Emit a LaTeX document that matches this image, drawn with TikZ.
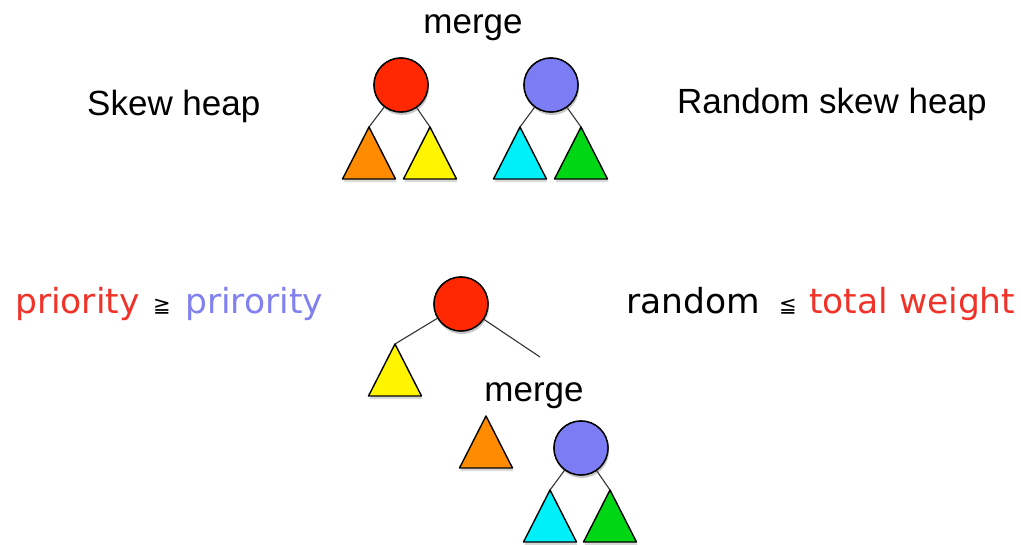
\documentclass[tikz,border=0pt]{standalone}
\usepackage{fontspec}
\setmainfont{Liberation Sans}
\newfontfamily\symfont{DejaVu Sans}
\usetikzlibrary{shadows}
\definecolor{nodered}{RGB}{255,40,0}
\definecolor{nodeblue}{RGB}{124,124,245}
\definecolor{triorange}{RGB}{255,140,0}
\definecolor{triyellow}{RGB}{255,245,0}
\definecolor{tricyan}{RGB}{0,240,250}
\definecolor{trigreen}{RGB}{0,215,20}
\definecolor{txtred}{RGB}{240,50,40}
\definecolor{txtblue}{RGB}{128,128,240}
\definecolor{edgegray}{RGB}{50,50,50}
\tikzset{
  heapnode/.style={circle, draw=black, line width=1.4pt, minimum size=54pt, inner sep=0pt,
    drop shadow={shadow xshift=1pt, shadow yshift=-3pt, opacity=0.25}},
  subtree/.style={draw=black, line width=1.4pt, line join=round,
    drop shadow={shadow xshift=1pt, shadow yshift=-3pt, opacity=0.3}},
  link/.style={draw=edgegray, line width=1.1pt},
  label/.style={font=\fontsize{35}{42}\selectfont, inner sep=0pt},
  cond/.style={font=\symfont\fontsize{34.5}{42}\selectfont, inner sep=0pt, anchor=base west},
  rel/.style={font=\symfont\fontsize{21}{24}\selectfont, inner sep=0pt, anchor=base west},
}
% triangle subtree hanging from its apex coordinate
\newcommand{\subtreeat}[2]{\path[subtree, fill=#2] (#1) -- ++(-26.5,52) -- ++(53,0) -- cycle;}
\begin{document}
\begin{tikzpicture}[x=1pt, y=-1pt]
\useasboundingbox (0,0) rectangle (1021,544);

% ---- two heaps to be merged ----
\node[label, anchor=base] (mtop) at (473,33) {merge};
\node[label, anchor=base west] (skew) at (87,115) {Skew heap};
\node[label, anchor=base west] (rskew) at (677,113) {Random skew heap};

\coordinate (a1) at (369,127);
\coordinate (a2) at (430,127);
\coordinate (b1) at (520,127);
\coordinate (b2) at (581,127);
\node[heapnode, fill=nodered] (ra) at (401,85) {};
\node[heapnode, fill=nodeblue] (rb) at (551,85) {};
\draw[link] (ra) -- (a1);
\draw[link] (ra) -- (a2);
\draw[link] (rb) -- (b1);
\draw[link] (rb) -- (b2);
\subtreeat{a1}{triorange}
\subtreeat{a2}{triyellow}
\subtreeat{b1}{tricyan}
\subtreeat{b2}{trigreen}
\node[heapnode, fill=nodered] at (ra) {};
\node[heapnode, fill=nodeblue] at (rb) {};

% ---- conditions ----
\node[cond, text=txtred] (p1) at (15,313) {priority};
\node[rel] (ge) at (153,312) {≧};
\node[cond, text=txtblue] (p2) at (185,313) {prirority};
\node[cond] (rnd) at (626,313) {random};
\node[rel] (le) at (779,312) {≦};
\node[cond, text=txtred] (tw) at (809,313) {total weight};

% ---- result after one step ----
\coordinate (c1) at (395,344);
\coordinate (cr) at (540,357);
\node[heapnode, fill=nodered] (rc) at (461,304) {};
\draw[link] (rc) -- (c1);
\draw[link] (rc) -- (cr);
\subtreeat{c1}{triyellow}
\node[heapnode, fill=nodered] at (rc) {};

\node[label, anchor=base] (mbot) at (534,401) {merge};
\coordinate (d1) at (486,416);
\subtreeat{d1}{triorange}

\coordinate (e1) at (550,490);
\coordinate (e2) at (610,490);
\node[heapnode, fill=nodeblue] (re) at (581,448) {};
\draw[link] (re) -- (e1);
\draw[link] (re) -- (e2);
\subtreeat{e1}{tricyan}
\subtreeat{e2}{trigreen}
\node[heapnode, fill=nodeblue] at (re) {};
\end{tikzpicture}
\end{document}
